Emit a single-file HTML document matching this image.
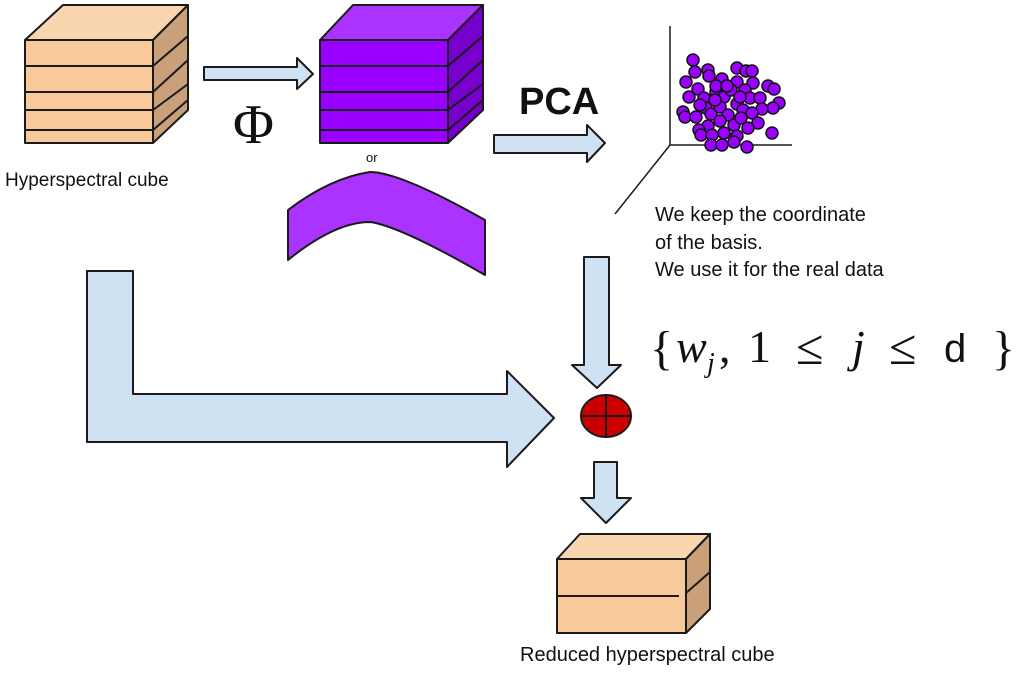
<!DOCTYPE html>
<html><head><meta charset="utf-8"><style>
html,body{margin:0;padding:0;background:#fff;}
svg{display:block;}
</style></head><body>
<svg width="1024" height="673" viewBox="0 0 1024 673" xmlns="http://www.w3.org/2000/svg">
<g stroke="#1a1a1a" stroke-width="2" stroke-linejoin="round">
<!-- left cube -->
<polygon points="25,40 63,5 188,5 153,40" fill="#fad6b0"/>
<polygon points="153,40 188,5 188,110 153,143" fill="#c9a07a"/>
<rect x="25" y="40" width="128" height="103" fill="#f8c99a"/>
<line x1="25" y1="66" x2="153" y2="66"/><line x1="153" y1="66" x2="188" y2="36"/>
<line x1="25" y1="92" x2="153" y2="92"/><line x1="153" y1="92" x2="188" y2="60"/>
<line x1="25" y1="110" x2="153" y2="110"/><line x1="153" y1="110" x2="188" y2="84"/>
<line x1="25" y1="130" x2="153" y2="130"/><line x1="153" y1="130" x2="188" y2="100"/>
<!-- purple cube -->
<polygon points="320,40 353,5 483,5 448,40" fill="#aa33ff"/>
<polygon points="448,40 483,5 483,110 448,143" fill="#7700cc"/>
<rect x="320" y="40" width="128" height="103" fill="#9900ff"/>
<line x1="320" y1="66" x2="448" y2="66"/><line x1="448" y1="66" x2="483" y2="36"/>
<line x1="320" y1="92" x2="448" y2="92"/><line x1="448" y1="92" x2="483" y2="60"/>
<line x1="320" y1="110" x2="448" y2="110"/><line x1="448" y1="110" x2="483" y2="84"/>
<line x1="320" y1="130" x2="448" y2="130"/><line x1="448" y1="130" x2="483" y2="100"/>
<!-- band -->
<path d="M288,210 Q330,178 370,172 Q400,172 485,220 L485,275 Q400,226 370,222 Q335,222 288,260 Z" fill="#aa33ff"/>
<!-- arrows -->
<polygon points="204,67 297,67 297,58 313,74 297,89 297,80 204,80" fill="#cfe2f3"/>
<polygon points="494,135 587,135 587,125 605,143 587,162 587,153 494,153" fill="#cfe2f3"/>
<polygon points="584,257 609,257 609,365 621,365 597,388 572,365 584,365" fill="#cfe2f3"/>
<polygon points="594,462 617,462 617,498 631,498 606,523 581,498 594,498" fill="#cfe2f3"/>
<polygon points="87,271 133,271 133,394 507,394 507,371 554,418 507,467 507,442 87,442" fill="#cfe2f3"/>
<!-- circle -->
<ellipse cx="606" cy="416" rx="25" ry="21" fill="#cc0000"/>
<line x1="581" y1="416" x2="631" y2="416"/><line x1="606" y1="395" x2="606" y2="437"/>
<!-- reduced cube -->
<polygon points="557,559 580,534 710,534 686,559" fill="#fad6b0"/>
<polygon points="686,559 710,534 710,609 686,633" fill="#c9a07a"/>
<rect x="557" y="559" width="129" height="74" fill="#f8c99a"/>
<line x1="557" y1="596" x2="679" y2="596"/><line x1="686" y1="593" x2="710" y2="572"/>
<!-- axes -->
<line x1="670" y1="26" x2="670" y2="145" stroke-width="1.5"/>
<line x1="670" y1="145" x2="792" y2="145" stroke-width="1.5"/>
<line x1="670" y1="145" x2="615" y2="214" stroke-width="1.5"/>
</g>
<g fill="#9900ff" stroke="#111" stroke-width="1.5">
<circle cx="693" cy="60" r="6"/><circle cx="695" cy="72" r="6"/><circle cx="686" cy="82" r="6"/><circle cx="708" cy="70" r="6"/><circle cx="709" cy="76" r="6"/><circle cx="737" cy="68" r="6"/><circle cx="746" cy="71" r="6"/><circle cx="752" cy="71" r="6"/><circle cx="722" cy="79" r="6"/><circle cx="737" cy="82" r="6"/><circle cx="753" cy="83" r="6"/><circle cx="768" cy="86" r="6"/><circle cx="774" cy="89" r="6"/><circle cx="779" cy="103" r="6"/><circle cx="773" cy="108" r="6"/><circle cx="772" cy="133" r="6"/><circle cx="689" cy="97" r="6"/><circle cx="698" cy="89" r="6"/><circle cx="704" cy="98" r="6"/><circle cx="716" cy="92" r="6"/><circle cx="724" cy="97" r="6"/><circle cx="731" cy="90" r="6"/><circle cx="745" cy="90" r="6"/><circle cx="750" cy="98" r="6"/><circle cx="760" cy="98" r="6"/><circle cx="762" cy="109" r="6"/><circle cx="683" cy="112" r="6"/><circle cx="685" cy="117" r="6"/><circle cx="696" cy="117" r="6"/><circle cx="706" cy="108" r="6"/><circle cx="711" cy="114" r="6"/><circle cx="720" cy="107" r="6"/><circle cx="728" cy="115" r="6"/><circle cx="737" cy="104" r="6"/><circle cx="743" cy="110" r="6"/><circle cx="752" cy="113" r="6"/><circle cx="758" cy="123" r="6"/><circle cx="748" cy="128" r="6"/><circle cx="734" cy="125" r="6"/><circle cx="720" cy="121" r="6"/><circle cx="708" cy="126" r="6"/><circle cx="699" cy="130" r="6"/><circle cx="701" cy="135" r="6"/><circle cx="712" cy="135" r="6"/><circle cx="724" cy="133" r="6"/><circle cx="737" cy="136" r="6"/><circle cx="734" cy="142" r="6"/><circle cx="711" cy="145" r="6"/><circle cx="722" cy="145" r="6"/><circle cx="747" cy="147" r="6"/><circle cx="716" cy="86" r="6"/><circle cx="727" cy="86" r="6"/><circle cx="740" cy="97" r="6"/><circle cx="700" cy="105" r="6"/><circle cx="741" cy="118" r="6"/><circle cx="715" cy="100" r="6"/>
</g>
<g font-family="'Liberation Sans',sans-serif" fill="#111">
<text x="5" y="186" font-size="19">Hyperspectral cube</text>
<text x="366" y="162" font-size="13">or</text>
<text x="519" y="114" font-size="38" font-weight="bold">PCA</text>
<text x="655" y="221" font-size="20">We keep the coordinate</text>
<text x="655" y="249" font-size="20">of the basis.</text>
<text x="655" y="276" font-size="20">We use it for the real data</text>
<text x="520" y="661" font-size="20">Reduced hyperspectral cube</text>
<text x="944" y="362" font-size="40">d</text>
</g>
<g font-family="'Liberation Serif',serif" fill="#111">
<text x="233" y="143" font-size="56">Φ</text>
<text x="650" y="364" font-size="48">{</text>
<text x="676" y="362" font-size="46" font-style="italic">w</text>
<text x="707" y="372" font-size="28" font-style="italic">j</text>
<text x="719" y="362" font-size="46">,</text>
<text x="748" y="362" font-size="46">1</text>
<text x="796" y="364" font-size="50">≤</text>
<text x="852" y="362" font-size="46" font-style="italic">j</text>
<text x="889" y="364" font-size="50">≤</text>
<text x="992" y="364" font-size="48">}</text>
</g>
</svg>
</body></html>
